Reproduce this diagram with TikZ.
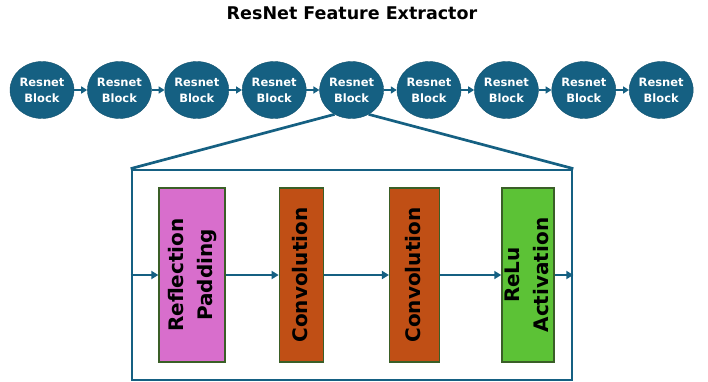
\documentclass[tikz,border=0pt]{standalone}
\usepackage{fontspec}
\setmainfont{DejaVu Sans}
\usetikzlibrary{positioning}
\usetikzlibrary{arrows.meta}
\usetikzlibrary{shapes.geometric}
\definecolor{resblue}{HTML}{156082}
\definecolor{padpink}{HTML}{D86ECC}
\definecolor{convorange}{HTML}{C04F15}
\definecolor{relugreen}{HTML}{5CC236}
\definecolor{layeredge}{HTML}{3A5F27}
\newcommand{\vtext}[1]{\makebox[0pt]{\rotatebox{90}{\begin{tabular}{@{}c@{}}#1\end{tabular}}}}
\tikzset{
        % Resnet blocks in the chain
        node_block/.style={ellipse, draw=resblue!85!black, fill=resblue, text=white, align=center, inner sep=0pt,
                minimum width=64pt, minimum height=57pt, font=\fontsize{11.5}{16}\selectfont\bfseries},
        % Layers inside one block
        node_layer/.style={rectangle, draw=layeredge, line width=1.3pt, inner sep=0pt, minimum height=174pt,
                font=\fontsize{20}{29}\selectfont\bfseries},
        % Zoomed frame
        node_frame/.style={rectangle, draw=resblue, line width=2.7pt, minimum width=440pt, minimum height=210pt},
        flow/.style={draw=resblue, line width=2.7pt, -{Triangle[length=7pt,width=8pt]}}
}
\begin{document}
\begin{tikzpicture}[x=1pt, y=-1pt]
    \useasboundingbox (0,0) rectangle (708,382);
    \node (title) at (352,13) {\fontsize{17.5}{20}\selectfont\bfseries ResNet Feature Extractor};
    % chain of blocks
    \node[node_block] (blk1) at (42,90) {Resnet\\Block};
    \foreach \i in {2,...,9}{
        \pgfmathtruncatemacro{\j}{\i-1}
        \node[node_block, right=13pt of blk\j] (blk\i) {Resnet\\Block};
        \draw[flow, line width=2.2pt, -{Triangle[length=6pt,width=7pt]}] (blk\j) -- (blk\i);
    }
    % inside of block 5
    \node[node_frame] (frame) at (352,275) {};
    \draw[resblue, line width=2.7pt] (blk5.-125) -- (frame.north west);
    \draw[resblue, line width=2.7pt] (blk5.-55) -- (frame.north east);
    \node[node_layer, fill=padpink, minimum width=66pt] (pad) at (192,275) {\vtext{Reflection\\Padding}};
    \node[node_layer, fill=convorange, minimum width=44pt, right=53pt of pad] (conv1) {\vtext{Convolution}};
    \node[node_layer, fill=convorange, minimum width=50pt, right=65pt of conv1] (conv2) {\vtext{Convolution}};
    \node[node_layer, fill=relugreen, minimum width=52pt, right=61pt of conv2] (relu) {\vtext{ReLu\\Activation}};
    \draw[flow] (frame.west) -- (pad);
    \draw[flow] (pad) -- (conv1);
    \draw[flow] (conv1) -- (conv2);
    \draw[flow] (conv2) -- (relu);
    \draw[flow] (relu) -- (frame.east);
\end{tikzpicture}
\end{document}
